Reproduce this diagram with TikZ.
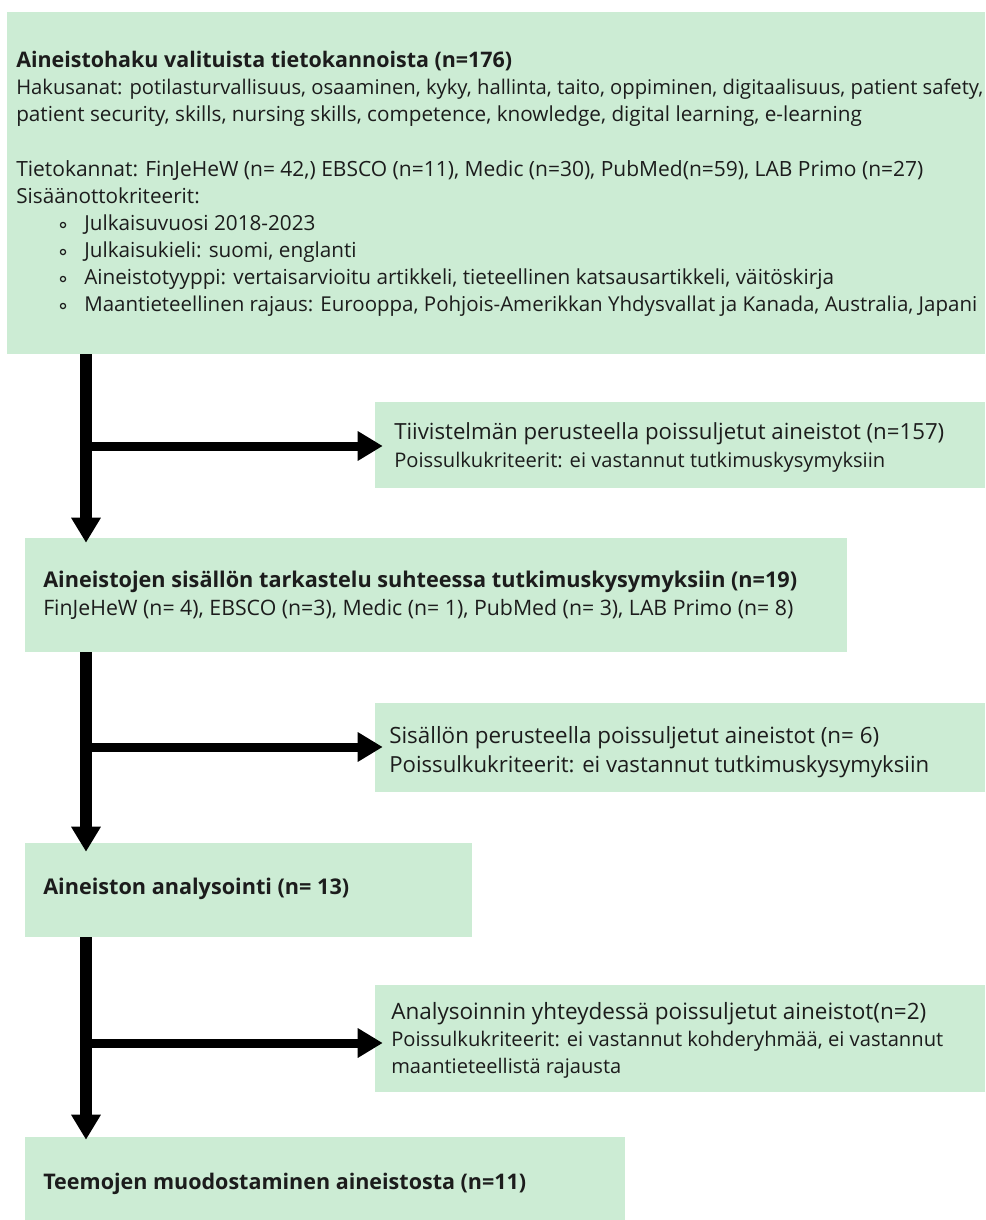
\documentclass[tikz,border=0pt]{standalone}
\usepackage{fontspec}
\setmainfont{Open Sans}
\usetikzlibrary{arrows.meta,fit}
\definecolor{boxg}{RGB}{204,236,212}
\definecolor{txt}{RGB}{28,28,28}
\newlength\fitlen
% \fl{font switch}{target width in px}{text}
\newcommand\fl[3]{\settowidth\fitlen{\fontsize{10pt}{12pt}\selectfont#1#3}%
  \pgfmathsetmacro\fsz{7.5*#2/\fitlen}%
  \fontsize{\fsz pt}{\fsz pt}\selectfont#1#3}
\newcommand\hakref{Hakusanat: potilasturvallisuus, osaaminen, kyky, hallinta, taito, oppiminen, digitaalisuus, patient safety,}
\newcommand\bodyf{\settowidth\fitlen{\fontsize{10pt}{12pt}\selectfont\hakref}%
  \pgfmathsetmacro\fsz{7.5*990/\fitlen}%
  \fontsize{\fsz pt}{\fsz pt}\selectfont}
\begin{document}
\begin{tikzpicture}[x=0.75pt,y=-0.75pt,
  gbox/.style={fill=boxg,draw=none,inner sep=0pt},
  ln/.style={anchor=base west,inner sep=0pt,text=txt},
  varr/.style={line width=9pt,-{Triangle[length=18.75pt,width=21pt]}},
  harr/.style={line width=6.75pt,-{Triangle[length=18.75pt,width=21pt]}},
  bul/.style={draw=txt,line width=0.9pt}]
\useasboundingbox (0,0) rectangle (985,1220);
% boxes
\node[gbox,fit={(7,12) (985,354)}] (b1) {};
\node[gbox,fit={(375,402) (985,488)}] (s1) {};
\node[gbox,fit={(25,538) (847,652)}] (b2) {};
\node[gbox,fit={(375,703) (985,792)}] (s2) {};
\node[gbox,fit={(25,843) (472,937)}] (b3) {};
\node[gbox,fit={(375,985) (985,1092)}] (s3) {};
\node[gbox,fit={(25,1137) (625,1220)}] (b4) {};
% box 1 text
\node[ln] (t1) at (16,68) {\fl{\bfseries}{496}{Aineistohaku valituista tietokannoista (n=176)}};
\node[ln] (t2) at (16,95) {\fl{}{967}{\hakref}};
\node[ln] (t3) at (16,122) {\bodyf patient security, skills, nursing skills, competence, knowledge, digital learning, e-learning};
\node[ln] (t4) at (16,176) {\fl{}{907}{Tietokannat: FinJeHeW (n= 42,) EBSCO (n=11), Medic (n=30), PubMed(n=59), LAB Primo (n=27)}};
\node[ln] (t5) at (16,203) {\bodyf Sisäänottokriteerit:};
\node[ln] (t6) at (84,230) {\bodyf Julkaisuvuosi 2018-2023};
\node[ln] (t7) at (84,257) {\bodyf Julkaisukieli: suomi, englanti};
\node[ln] (t8) at (84,284) {\bodyf Aineistotyyppi: vertaisarvioitu artikkeli, tieteellinen katsausartikkeli, väitöskirja};
\node[ln] (t9) at (84,311) {\fl{}{893}{Maantieteellinen rajaus: Eurooppa, Pohjois-Amerikkan Yhdysvallat ja Kanada, Australia, Japani}};
\foreach \yy in {225,252,279,306} \draw[bul] (63,\yy) circle (2.6);
% side 1
\node[ln] (u1) at (394,439) {\fl{}{550}{Tiivistelmän perusteella poissuljetut aineistot (n=157)}};
\node[ln] (u2) at (394,467) {\fl{}{491}{Poissulkukriteerit: ei vastannut tutkimuskysymyksiin}};
% box 2
\node[ln] (v1) at (43,587) {\fl{\bfseries}{754}{Aineistojen sisällön tarkastelu suhteessa tutkimuskysymyksiin (n=19)}};
\node[ln] (v2) at (43,615) {\fl{}{750}{FinJeHeW (n= 4), EBSCO (n=3), Medic (n= 1), PubMed (n= 3), LAB Primo (n= 8)}};
% side 2
\node[ln] (w1) at (389,743) {\fl{}{490}{Sisällön perusteella poissuljetut aineistot (n= 6)}};
\node[ln] (w2) at (389,772) {\fl{}{540}{Poissulkukriteerit: ei vastannut tutkimuskysymyksiin}};
% box 3
\node[ln] (x1) at (43,894) {\fl{\bfseries}{306}{Aineiston analysointi (n= 13)}};
% side 3
\node[ln] (y1) at (391,1019) {\fl{}{535}{Analysoinnin yhteydessä poissuljetut aineistot(n=2)}};
\node[ln] (y2) at (391,1046) {\fl{}{552}{Poissulkukriteerit: ei vastannut kohderyhmää, ei vastannut}};
\node[ln] (y3) at (391,1073) {\fl{}{230}{maantieteellistä rajausta}};
% box 4
\node[ln] (z1) at (43,1189) {\fl{\bfseries}{483}{Teemojen muodostaminen aineistosta (n=11)}};
% connectors
\coordinate (ax) at (86,0);
\coordinate (j1) at (86,446);
\coordinate (j2) at (86,747);
\coordinate (j3) at (86,1043);
\draw[varr,shorten >=-3.75pt] (b1.south -| ax) -- (b2.north -| ax);
\draw[varr,shorten >=-6.75pt] (b2.south -| ax) -- (b3.north -| ax);
\draw[varr,shorten >=-2.25pt] (b3.south -| ax) -- (b4.north -| ax);
\draw[harr,shorten >=-6pt] (j1) -- (s1.west |- j1);
\draw[harr,shorten >=-6pt] (j2) -- (s2.west |- j2);
\draw[harr,shorten >=-6pt] (j3) -- (s3.west |- j3);
\end{tikzpicture}
\end{document}
